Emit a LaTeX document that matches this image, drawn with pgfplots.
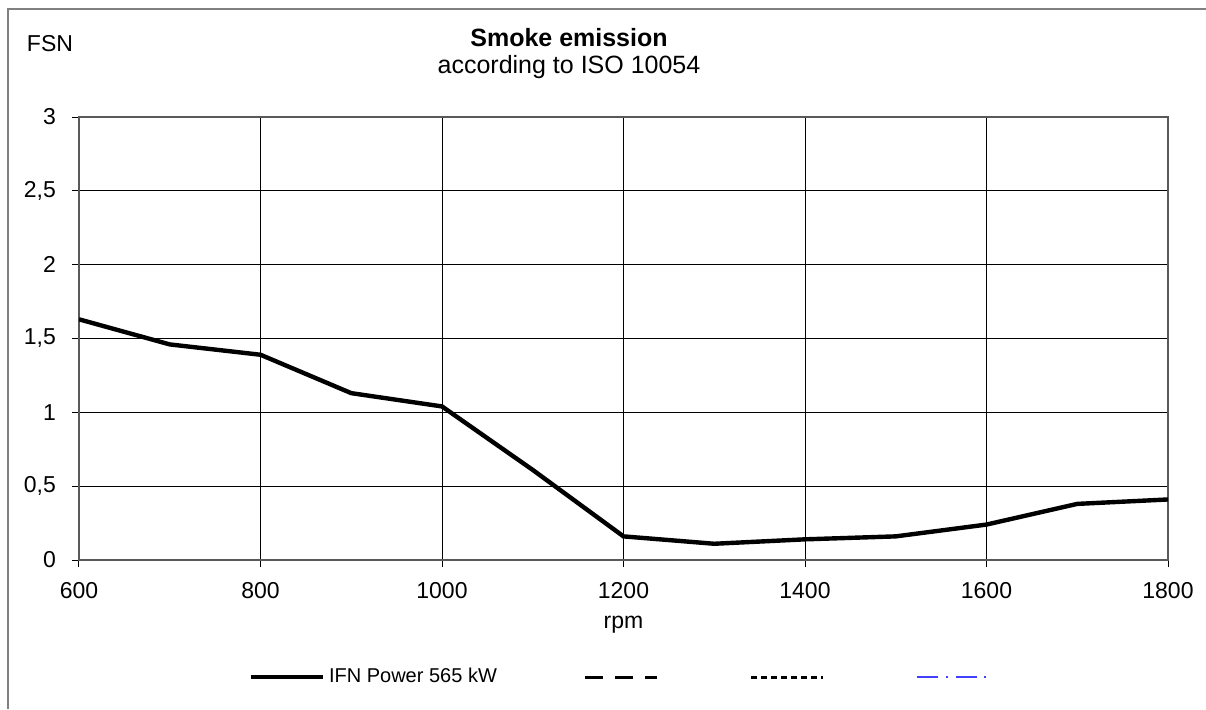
\documentclass[border=0pt]{standalone}
\usepackage{pgfplots}
\pgfplotsset{compat=1.18}
\usepackage{fontspec}
\setmainfont{Liberation Sans}
\begin{document}
\begin{tikzpicture}
\path[use as bounding box] (-39.5pt,-74.5pt) rectangle (563.5pt,280pt);
\draw[gray, line width=0.8pt] (-35.5pt,-74.5pt) -- (-35.5pt,275.5pt) -- (563.5pt,275.5pt);
\begin{axis}[
  at={(0,0)}, anchor=south west,
  scale only axis, width=544.5pt, height=221.5pt,
  xmin=600, xmax=1800, ymin=0, ymax=3,
  xtick={600,800,...,1800}, ytick={0,0.5,...,3},
  grid=major, major grid style={black, line width=0.5pt},
  axis line style={gray!70!black, line width=0.9pt},
  tick style={black, line width=0.5pt},
  tick align=outside, major tick length=3.5pt,
  xtick pos=left, ytick pos=left,
  /pgf/number format/assume math mode=true,
  /pgf/number format/use comma,
  /pgf/number format/1000 sep={},
  ticklabel style={font=\fontsize{11.5}{13}\selectfont},
  xticklabel style={yshift=-4pt},
  yticklabel style={xshift=-4.5pt},
  legend columns=4,
  legend style={draw=none, fill=none, at={(0.5,-58.5pt)}, anchor=center,
    font=\fontsize{10}{12}\selectfont,
    /tikz/every even column/.append style={column sep=41.5pt}},
  legend cell align=left,
  legend image code/.code={\draw[#1] (0pt,0pt) -- (36pt,0pt);},
]
\addplot[black, line width=2.2pt] coordinates {
(600,1.63) (700,1.46) (800,1.39) (900,1.13) (1000,1.04) (1100,0.61) (1200,0.16) (1300,0.11) (1400,0.14) (1500,0.16) (1600,0.24) (1700,0.38) (1800,0.41)};
\addlegendentry{IFN Power 565 kW}
\addlegendimage{black, line width=1.5pt, dash pattern=on 8.75pt off 6.25pt}
\addlegendentry{}
\addlegendimage{black, line width=1.5pt, dash pattern=on 3pt off 2pt}
\addlegendentry{}
\addlegendimage{blue!75!white, line width=1.2pt, dash pattern=on 10.5pt off 3.75pt on 1pt off 4pt}
\addlegendentry{}
\end{axis}
\node[font=\fontsize{12.5}{14}\selectfont\bfseries, anchor=base] at (245pt,257pt) {Smoke emission};
\node[font=\fontsize{12.5}{14}\selectfont, anchor=base] at (245pt,243.5pt) {according to ISO 10054};
\node[font=\fontsize{11.5}{13}\selectfont] at (-14.5pt,258pt) {FSN};
\node[font=\fontsize{11.5}{13}\selectfont] at (272.25pt,-32.5pt) {rpm};
\end{tikzpicture}
\end{document}
